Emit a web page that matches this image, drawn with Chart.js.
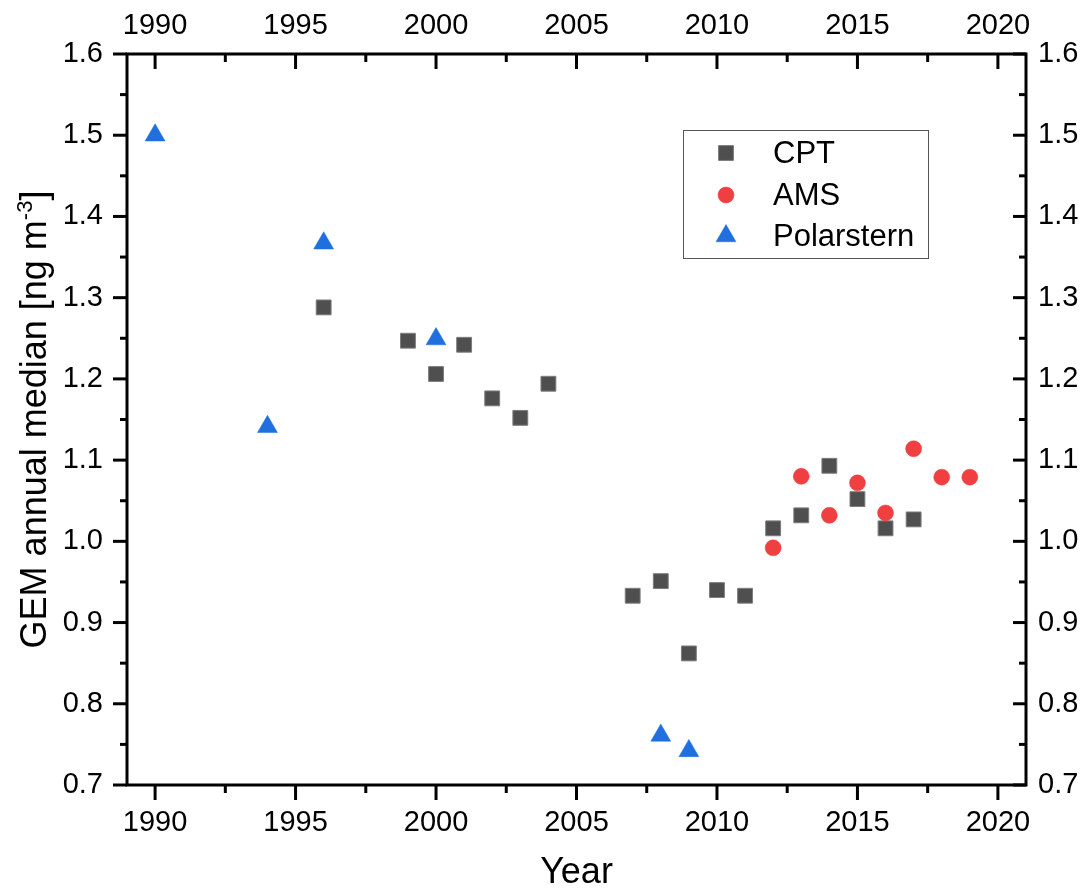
<!DOCTYPE html>
<html>
<head>
<meta charset="utf-8">
<script src="https://cdn.jsdelivr.net/npm/chart.js@4"></script>
<style>
  body { margin: 0; background: #fff; overflow: hidden; }
  canvas { display: block; }
</style>
</head>
<body>
<canvas id="gem" width="1087" height="892"></canvas>
<script>
// values
const cptYears = [1996, 1999, 2000, 2001, 2002, 2003, 2004, 2007, 2008, 2009, 2010, 2011, 2012, 2013, 2014, 2015, 2016, 2017];
const cptValues = [1.288, 1.247, 1.206, 1.242, 1.176, 1.152, 1.194, 0.933, 0.951, 0.862, 0.940, 0.933, 1.016, 1.032, 1.093, 1.052, 1.016, 1.027];
const amsYears = [2012, 2013, 2014, 2015, 2016, 2017, 2018, 2019];
const amsValues = [0.992, 1.080, 1.032, 1.072, 1.035, 1.114, 1.079, 1.079];
const polYears = [1990, 1994, 1996, 2000, 2008, 2009];
const polValues = [1.500, 1.141, 1.367, 1.249, 0.761, 0.742];

const xTicks = [1990, 1995, 2000, 2005, 2010, 2015, 2020];
const yTicks = [0.7, 0.8, 0.9, 1.0, 1.1, 1.2, 1.3, 1.4, 1.5, 1.6];

const FONT = "'Liberation Sans', Arial, sans-serif";

const toPts = (xs, ys) => xs.map((x, i) => ({x: x, y: ys[i]}));
const setTicks = (list) => (scale) => { scale.ticks = list.map(v => ({value: v})); };

// frame, in/out ticks (Origin style)
const framePlugin = {
  id: 'frame',
  afterDatasetsDraw(chart) {
    const ctx = chart.ctx, a = chart.chartArea, s = chart.scales;
    ctx.save();
    ctx.strokeStyle = '#000';
    ctx.lineWidth = 3;
    const line = (x1, y1, x2, y2) => { ctx.beginPath(); ctx.moveTo(x1, y1); ctx.lineTo(x2, y2); ctx.stroke(); };
    const mids = (t) => t.slice(1).map((v, i) => (v + t[i]) / 2);

    xTicks.forEach(v => {
      const p = s.x.getPixelForValue(v);
      line(p, a.bottom, p, a.bottom + 15);
      line(p, a.top, p, a.top + 15);
    });
    mids(xTicks).forEach(v => {
      const p = s.x.getPixelForValue(v);
      line(p, a.bottom, p, a.bottom + 8);
      line(p, a.top, p, a.top + 8);
    });
    yTicks.forEach(v => {
      const p = s.y.getPixelForValue(v);
      line(a.left - 14, p, a.left, p);
      line(a.right - 13, p, a.right, p);
    });
    mids(yTicks).forEach(v => {
      const p = s.y.getPixelForValue(v);
      line(a.left - 7, p, a.left, p);
      line(a.right - 7, p, a.right, p);
    });
    ctx.strokeRect(a.left, a.top, a.right - a.left, a.bottom - a.top);
    ctx.restore();
  }
};

// y title with superscript, x title, boxed legend
const textPlugin = {
  id: 'texts',
  afterDraw(chart) {
    const ctx = chart.ctx, a = chart.chartArea;
    ctx.save();
    ctx.fillStyle = '#000';

    // y axis title
    const main = 'GEM annual median [ng m';
    const sup = '-3';
    const close = ']';
    ctx.translate(33, (a.top + a.bottom) / 2);
    ctx.rotate(-Math.PI / 2);
    ctx.textBaseline = 'alphabetic';
    ctx.font = '36px ' + FONT;
    const w1 = ctx.measureText(main).width;
    const w3 = ctx.measureText(close).width;
    ctx.font = '22px ' + FONT;
    const w2 = ctx.measureText(sup).width;
    const x0 = -(w1 + w2 + w3) / 2;
    ctx.font = '36px ' + FONT;
    ctx.textAlign = 'left';
    ctx.fillText(main, x0, 13);
    ctx.font = '22px ' + FONT;
    ctx.fillText(sup, x0 + w1, -1);
    ctx.font = '36px ' + FONT;
    ctx.fillText(close, x0 + w1 + w2, 13);
    ctx.restore();

    // x axis title
    ctx.save();
    ctx.fillStyle = '#000';
    ctx.font = '36px ' + FONT;
    ctx.textAlign = 'center';
    ctx.textBaseline = 'alphabetic';
    ctx.fillText('Year', (a.left + a.right) / 2, 883);
    ctx.restore();

    // legend
    ctx.save();
    ctx.strokeStyle = '#555';
    ctx.lineWidth = 1;
    ctx.strokeRect(683.5, 130.5, 245, 128);
    const rows = [153, 195, 236];
    chart.data.datasets.forEach((ds, i) => {
      ctx.fillStyle = ds.backgroundColor;
      ctx.strokeStyle = ds.borderColor;
      ctx.lineWidth = ds.borderWidth;
      Chart.helpers.drawPoint(ctx, {
        pointStyle: ds.pointStyle,
        radius: ds.pointRadius,
        borderWidth: ds.borderWidth
      }, 726, rows[i]);

      ctx.fillStyle = '#000';
      ctx.font = '31px ' + FONT;
      ctx.textAlign = 'left';
      ctx.textBaseline = 'middle';
      ctx.fillText(ds.label, 773, rows[i] + 1);
    });
    ctx.restore();
  }
};

const tickFont = { family: FONT, size: 29 };

new Chart(document.getElementById('gem'), {
  type: 'scatter',
  data: {
    datasets: [
      {
        label: 'CPT',
        data: toPts(cptYears, cptValues),
        pointStyle: 'rect',
        pointRadius: 10.5,
        backgroundColor: '#4f4f4f',
        borderColor: '#7d7d7d',
        borderWidth: 1,
        order: 3
      },
      {
        label: 'AMS',
        data: toPts(amsYears, amsValues),
        pointStyle: 'circle',
        pointRadius: 8,
        backgroundColor: '#ef3f41',
        borderColor: '#ef3f41',
        borderWidth: 0.5,
        order: 2
      },
      {
        label: 'Polarstern',
        data: toPts(polYears, polValues),
        pointStyle: 'triangle',
        pointRadius: 11.5,
        backgroundColor: '#1f6fdf',
        borderColor: '#1f6fdf',
        borderWidth: 0.5,
        order: 1
      }
    ]
  },
  options: {
    responsive: false,
    animation: false,
    layout: { padding: 0 },
    plugins: {
      legend: { display: false },
      tooltip: { enabled: false }
    },
    elements: { point: { hoverRadius: 0 } },
    scales: {
      x: {
        type: 'linear', position: 'bottom', min: 1989, max: 2021,
        afterBuildTicks: setTicks(xTicks),
        afterFit: (s) => { s.height = 107; },
        grid: { display: false, drawTicks: false },
        border: { display: false },
        ticks: { font: tickFont, color: '#000', padding: 21, autoSkip: false, maxRotation: 0, callback: v => String(v) }
      },
      x2: {
        type: 'linear', position: 'top', min: 1989, max: 2021,
        afterBuildTicks: setTicks(xTicks),
        afterFit: (s) => { s.height = 54; },
        grid: { display: false, drawTicks: false },
        border: { display: false },
        ticks: { font: tickFont, color: '#000', padding: 11, autoSkip: false, maxRotation: 0, callback: v => String(v) }
      },
      y: {
        type: 'linear', position: 'left', min: 0.7, max: 1.6,
        afterBuildTicks: setTicks(yTicks),
        afterFit: (s) => { s.width = 127; },
        grid: { display: false, drawTicks: false },
        border: { display: false },
        ticks: { font: tickFont, color: '#000', padding: 24, autoSkip: false, callback: v => v.toFixed(1) }
      },
      y2: {
        type: 'linear', position: 'right', min: 0.7, max: 1.6,
        afterBuildTicks: setTicks(yTicks),
        afterFit: (s) => { s.width = 61; },
        grid: { display: false, drawTicks: false },
        border: { display: false },
        ticks: { font: tickFont, color: '#000', padding: 12, autoSkip: false, callback: v => v.toFixed(1) }
      }
    }
  },
  plugins: [framePlugin, textPlugin]
});
</script>
</body>
</html>
